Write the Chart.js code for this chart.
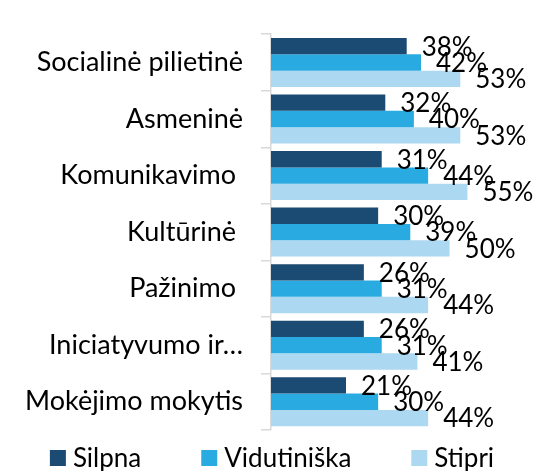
<!DOCTYPE html>
<html>
<head>
<meta charset="utf-8">
<script src="https://cdn.jsdelivr.net/npm/chart.js@4.4.1/dist/chart.umd.min.js"></script>
<style>
html,body{margin:0;padding:0;background:#fff;}
#wrap{width:538px;height:471px;position:relative;}
</style>
</head>
<body>
<div id="wrap"><canvas id="c" width="538" height="471"></canvas></div>
<script>
const categories = ["Socialinė pilietinė", "Asmeninė", "Komunikavimo ", "Kultūrinė ", "Pažinimo ", "Iniciatyvumo ir…", "Mokėjimo mokytis"];
const silpna = [38, 32, 31, 30, 26, 26, 21];
const vidutiniska = [42, 40, 44, 39, 31, 31, 30];
const stipri = [53, 53, 55, 50, 44, 41, 44];
const seriesNames = ["Silpna", "Vidutiniška", "Stipri"];

const FONT = "Lato";
const FS = 26;

const labelPlugin = {
  id: 'barLabels',
  afterDatasetsDraw(chart) {
    const ctx = chart.ctx;
    ctx.save();
    ctx.font = FS + "px " + FONT;
    ctx.fillStyle = "#000";
    ctx.textAlign = "left";
    ctx.textBaseline = "middle";
    chart.data.datasets.forEach((ds, i) => {
      const meta = chart.getDatasetMeta(i);
      meta.data.forEach((el, j) => {
        ctx.fillText(ds.data[j] + "%", el.x + 15, el.y + 1);
      });
    });
    ctx.restore();
  }
};

// Legend drawn from the chart's datasets (names + colours)
const legendPlugin = {
  id: 'bottomLegend',
  afterDraw(chart) {
    const ctx = chart.ctx;
    ctx.save();
    ctx.font = FS + "px " + FONT;
    ctx.textBaseline = "middle";
    ctx.textAlign = "left";
    const box = 16, gapText = 7, gapItem = 60;
    const items = chart.data.datasets.map(ds => ({ text: ds.label, color: ds.backgroundColor, w: ctx.measureText(ds.label).width }));
    let total = items.reduce((s, it) => s + box + gapText + it.w, 0) + gapItem * (items.length - 1);
    let x = (chart.width - total) / 2 + 3;
    const cy = 458;
    items.forEach(it => {
      ctx.fillStyle = it.color;
      ctx.fillRect(x, cy - box / 2, box, box);
      ctx.fillStyle = "#000";
      ctx.fillText(it.text, x + box + gapText, cy + 1);
      x += box + gapText + it.w + gapItem;
    });
    ctx.restore();
  }
};

new Chart(document.getElementById('c'), {
  type: 'bar',
  data: {
    labels: categories,
    datasets: [
      { label: seriesNames[0], data: silpna, backgroundColor: "#1B4A72" },
      { label: seriesNames[1], data: vidutiniska, backgroundColor: "#29AAE1" },
      { label: seriesNames[2], data: stipri, backgroundColor: "#ADD8F2" }
    ]
  },
  options: {
    indexAxis: 'y',
    responsive: false,
    animation: false,
    devicePixelRatio: 1,
    layout: { padding: { top: 10, right: 17, left: 0, bottom: 41 } },
    datasets: { bar: { categoryPercentage: 0.867, barPercentage: 1.0 } },
    scales: {
      x: { display: false, min: 0, max: 70 },
      y: {
        afterFit(scale) { scale.width = 271; },
        border: { display: true, color: "#d9d9d9", width: 1.5 },
        grid: { offset: true, drawOnChartArea: false, drawTicks: true, tickLength: 10, color: "#d9d9d9", lineWidth: 1.5 },
        ticks: { color: "#000", font: { family: FONT, size: 27 }, padding: 18, autoSkip: false }
      }
    },
    plugins: {
      legend: { display: false },
      tooltip: { enabled: false }
    }
  },
  plugins: [labelPlugin, legendPlugin]
});
</script>
</body>
</html>
